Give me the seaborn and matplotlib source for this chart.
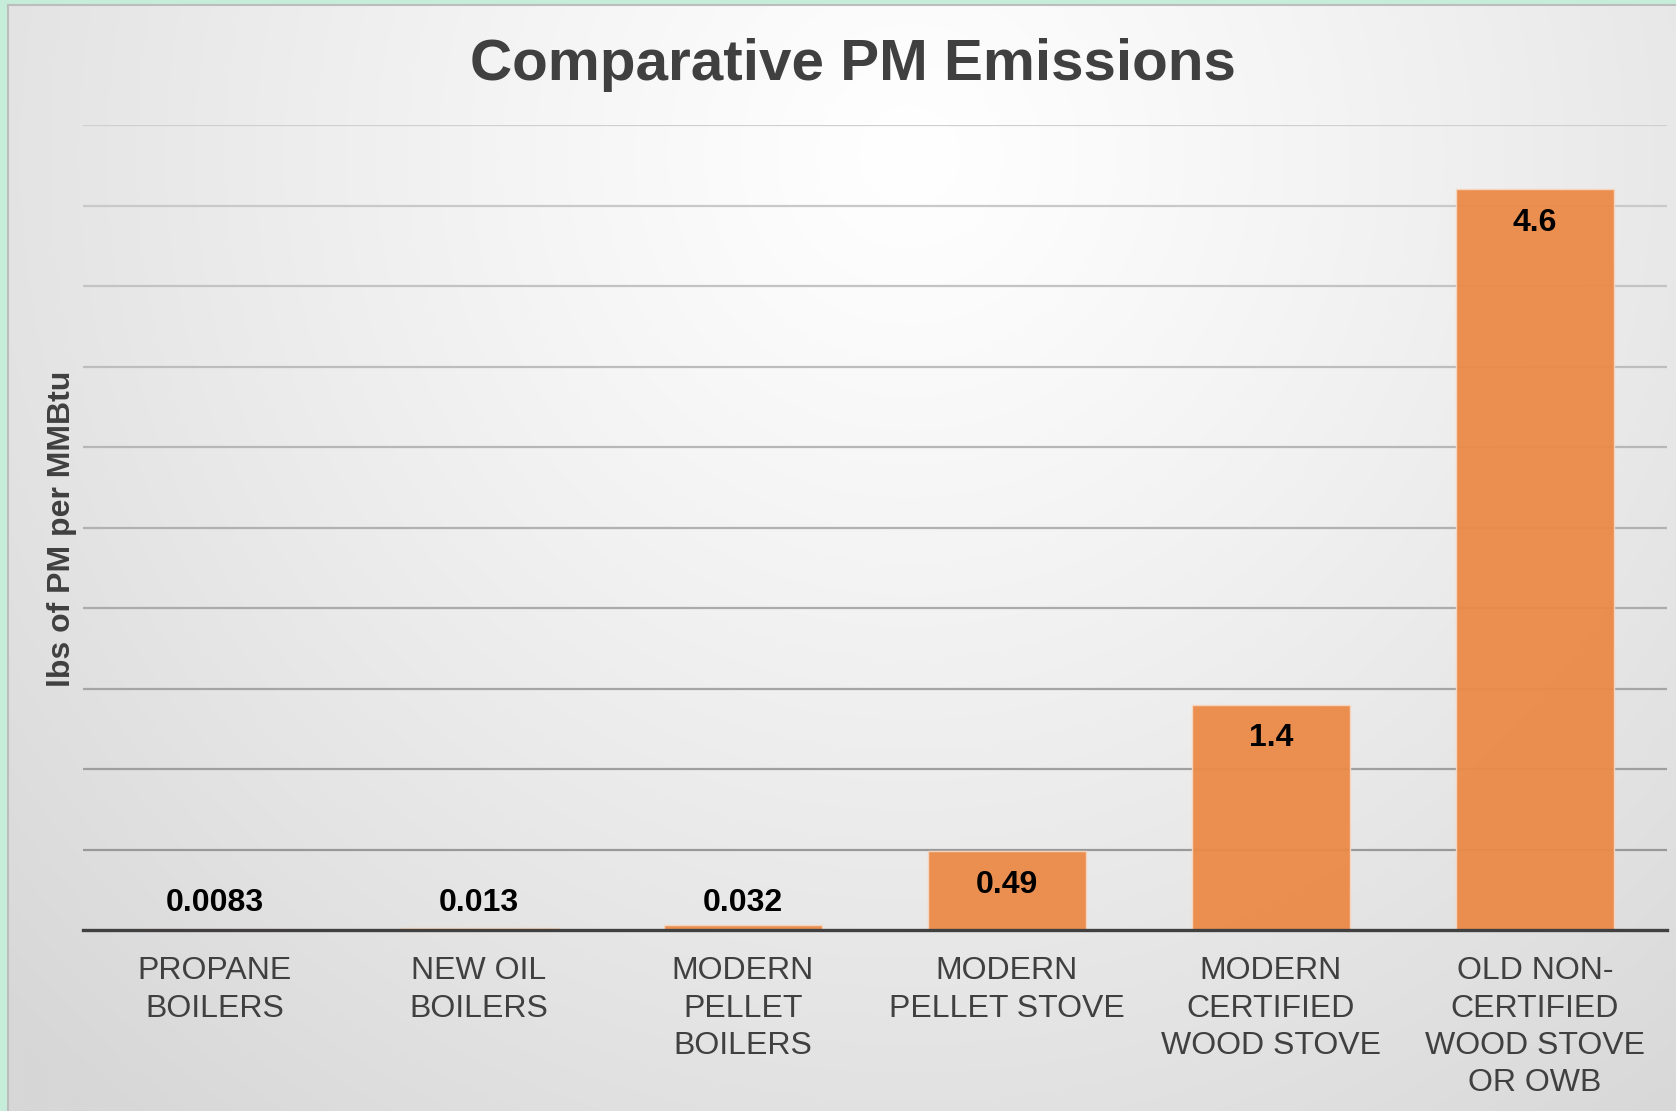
import numpy as np
import pandas as pd
import matplotlib
matplotlib.use("Agg")
import matplotlib.pyplot as plt
import seaborn as sns

# Particulate-matter emissions by heating appliance (lbs PM per MMBtu)
categories = [
    "PROPANE\nBOILERS",
    "NEW OIL\nBOILERS",
    "MODERN\nPELLET\nBOILERS",
    "MODERN\nPELLET STOVE",
    "MODERN\nCERTIFIED\nWOOD STOVE",
    "OLD NON-\nCERTIFIED\nWOOD STOVE\nOR OWB",
]
values = [0.0083, 0.013, 0.032, 0.49, 1.4, 4.6]
value_labels = ["0.0083", "0.013", "0.032", "0.49", "1.4", "4.6"]

title = "Comparative PM Emissions"
ylabel = "lbs of PM per MMBtu"

df = pd.DataFrame({"appliance": categories, "pm": values})

sns.set_theme(style="white")
plt.rcParams["font.family"] = ["Liberation Sans", "DejaVu Sans"]

W, H, DPI = 1676, 1111, 100
fig = plt.figure(figsize=(W / DPI, H / DPI), dpi=DPI, facecolor="#C6EDDA")

# Chart area with a soft radial gradient background
bg = fig.add_axes([8 / W, 0, 1 - 8 / W, 1 - 5 / H])
bw, bh = W - 8, H - 5
yy, xx = np.mgrid[0:bh:2, 0:bw:2]
dist = np.hypot(xx - 900, yy - 150) / 1250.0
shade = 255 - 40 * np.clip(dist, 0, 1) ** 1.15
img = np.dstack([shade, shade, shade]) / 255.0
bg.imshow(img, extent=[0, 1, 0, 1], aspect="auto", origin="upper", interpolation="bilinear")
bg.set_xlim(0, 1)
bg.set_ylim(0, 1)
bg.set_xticks([])
bg.set_yticks([])
for side in ["right", "bottom"]:
    bg.spines[side].set_visible(False)
for side in ["left", "top"]:
    bg.spines[side].set_color("#BDBDBD")
    bg.spines[side].set_linewidth(1.5)

# Main plotting axes
ax = fig.add_axes([83 / W, 181 / H, 1584 / W, 805 / H])
ax.patch.set_alpha(0)
ax.set_axisbelow(True)

sns.barplot(
    data=df, x="appliance", y="pm", order=categories,
    color="#EB8A48", saturation=1, width=0.6, alpha=0.95,
    edgecolor="#F6D7C0", linewidth=1.0, ax=ax,
)

ax.set_xlim(-0.5, len(categories) - 0.5)
ax.set_ylim(0, 5.0)
ax.set_yticks(np.arange(0.5, 5.01, 0.5))
ax.yaxis.grid(True, linewidth=1.6)
grid_lines = ax.get_ygridlines()
greys = np.linspace(0.60, 0.81, len(grid_lines))
for gl, g in zip(grid_lines, greys):
    gl.set_color((g, g, g))
ax.tick_params(axis="y", left=False, labelleft=False)
ax.tick_params(axis="x", bottom=False, pad=13)
ax.set_xticks(range(len(categories)))
ax.set_xticklabels(categories, fontsize=23, color="#404040", linespacing=1.31)
ax.set_xlabel("")
ax.set_ylabel("")

for side in ["left", "right", "top"]:
    ax.spines[side].set_visible(False)
ax.spines["bottom"].set_color("#404040")
ax.spines["bottom"].set_linewidth(2.4)
ax.spines["bottom"].set_zorder(5)

# Value labels: inside the top of the bar, or just above the axis for short bars
for i, (v, lab) in enumerate(zip(values, value_labels)):
    y = max(v - 0.21, 0.17)
    ax.text(i, y, lab, ha="center", va="center", fontsize=23,
            fontweight="bold", color="black", zorder=6)

fig.text(853 / W, 1 - 65 / H, title, ha="center", va="center",
         fontsize=42, fontweight="bold", color="#404040")
fig.text(62 / W, 1 - 529 / H, ylabel, ha="center", va="center", rotation=90,
         fontsize=23, fontweight="bold", color="#404040")

fig.savefig("out.png", dpi=DPI, facecolor=fig.get_facecolor())
